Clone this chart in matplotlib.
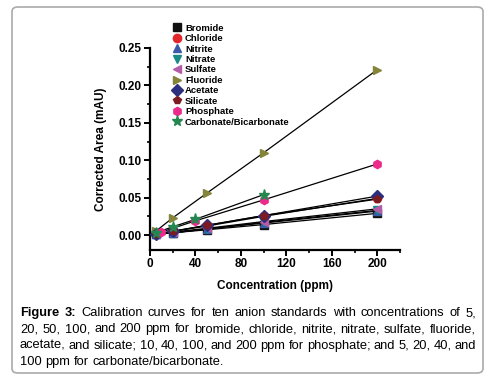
import numpy as np
import matplotlib
matplotlib.use("Agg")
import matplotlib.pyplot as plt
from matplotlib.patches import FancyBboxPatch

plt.rcParams['font.family'] = ['Liberation Sans', 'DejaVu Sans']

# data
conc_std = [5, 20, 50, 100, 200]
conc_phos = [10, 40, 100, 200]
conc_carb = [5, 20, 40, 100]

bromide = [0.001, 0.003, 0.007, 0.014, 0.029]
chloride = [0.001, 0.005, 0.012, 0.025, 0.049]
nitrite = [0.001, 0.003, 0.008, 0.016, 0.032]
nitrate = [0.001, 0.003, 0.008, 0.017, 0.033]
sulfate = [0.001, 0.004, 0.009, 0.018, 0.035]
fluoride = [0.005, 0.023, 0.056, 0.110, 0.221]
acetate = [0.001, 0.005, 0.013, 0.026, 0.052]
silicate = [0.001, 0.005, 0.013, 0.026, 0.048]
phosphate = [0.004, 0.019, 0.047, 0.095]
carbonate = [0.003, 0.011, 0.021, 0.054]

series = [
    ("Bromide", conc_std, bromide, "s", "#111111"),
    ("Chloride", conc_std, chloride, "o", "#e3262b"),
    ("Nitrite", conc_std, nitrite, "^", "#3c58a8"),
    ("Nitrate", conc_std, nitrate, "v", "#178a86"),
    ("Sulfate", conc_std, sulfate, "<", "#b45ca8"),
    ("Fluoride", conc_std, fluoride, ">", "#84843a"),
    ("Acetate", conc_std, acetate, "D", "#2c2f7f"),
    ("Silicate", conc_std, silicate, "p", "#7c1b22"),
    ("Phosphate", conc_phos, phosphate, "h", "#ec2a8c"),
    ("Carbonate/Bicarbonate", conc_carb, carbonate, "*", "#24874f"),
]

caption_lines = [
    "Calibration curves for ten anion standards with concentrations of 5,",
    "20, 50, 100, and 200 ppm for bromide, chloride, nitrite, nitrate, sulfate, fluoride,",
    "acetate, and silicate; 10, 40, 100, and 200 ppm for phosphate; and 5, 20, 40, and",
    "100 ppm for carbonate/bicarbonate.",
]

W, H = 490, 380
fig = plt.figure(figsize=(4.9, 3.8), dpi=100)

# rounded frame around figure + caption
frame = FancyBboxPatch((12 / W, 7 / H), 471 / W, 366 / H,
                       boxstyle="round,pad=0,rounding_size=0.012",
                       transform=fig.transFigure, fc="none", ec="#aaaaaa", lw=1.2,
                       zorder=-1)
fig.patches.append(frame)

ax = fig.add_axes([150 / W, 1 - 250 / H, 250 / W, 202 / H])
ax.patch.set_alpha(0)
for name, x, y, m, c in series:
    ax.plot(x, y, color="black", lw=0.9, zorder=2)
    ms = 8 if m == "*" else 6
    ax.plot(x, y, ls="none", marker=m, color=c, ms=ms, label=name, zorder=3)

ax.set_xlim(0, 220)
ax.set_ylim(-0.02, 0.25)
ax.set_xticks([0, 40, 80, 120, 160, 200])
ax.set_xticks([20, 60, 100, 140, 180, 220], minor=True)
ax.set_yticks([0.0, 0.05, 0.10, 0.15, 0.20, 0.25])
ax.set_yticks([0.025, 0.075, 0.125, 0.175, 0.225], minor=True)
ax.set_yticklabels(["0.00", "0.05", "0.10", "0.15", "0.20", "0.25"])
for s in ["top", "right"]:
    ax.spines[s].set_visible(False)
for s in ["left", "bottom"]:
    ax.spines[s].set_linewidth(1.6)
ax.tick_params(which="major", direction="out", length=4, width=1.4, labelsize=8.5, pad=2)
ax.tick_params(which="minor", direction="out", length=2.5, width=1.2)
for lab in ax.get_xticklabels() + ax.get_yticklabels():
    lab.set_fontweight("bold")
ax.set_xlabel("Concentration (ppm)", fontsize=8.5, fontweight="bold", labelpad=7)
ax.set_ylabel("Corrected Area (mAU)", fontsize=8.5, fontweight="bold", labelpad=8)

leg = ax.legend(loc="upper left", bbox_to_anchor=(168 / W, 1 - 20 / H),
                bbox_transform=fig.transFigure, frameon=False,
                prop={"size": 6.8, "weight": "bold"}, handlelength=1.0,
                handletextpad=0.4, labelspacing=0.15, borderaxespad=0)

# caption, justified between x0 and x1 (pixels)
fs = 9.3
x0, x1 = 20, 476
baselines = [316, 332, 349, 365]
renderer = fig.canvas.get_renderer()


def place_line(words, yy, justify):
    # words: list of (text, weight)
    arts = []
    for w, wt in words:
        a = fig.text(0, 1 - yy / H, w, fontsize=fs, fontweight=wt,
                     va="baseline", ha="left")
        arts.append(a)
    widths = [a.get_window_extent(renderer).width for a in arts]
    if justify and len(arts) > 1:
        gap = (x1 - x0 - sum(widths)) / (len(arts) - 1)
    else:
        gap = fs * 0.28 * 100 / 72
    xpos = x0
    for a, wd in zip(arts, widths):
        a.set_x(xpos / W)
        xpos += wd + gap


for i, (line, yy) in enumerate(zip(caption_lines, baselines)):
    words = [(w, "normal") for w in line.split()]
    if i == 0:
        words = [("Figure", "bold"), ("3:", "bold")] + words
    place_line(words, yy, justify=(i < len(caption_lines) - 1))

fig.savefig("out.png", dpi=100)
